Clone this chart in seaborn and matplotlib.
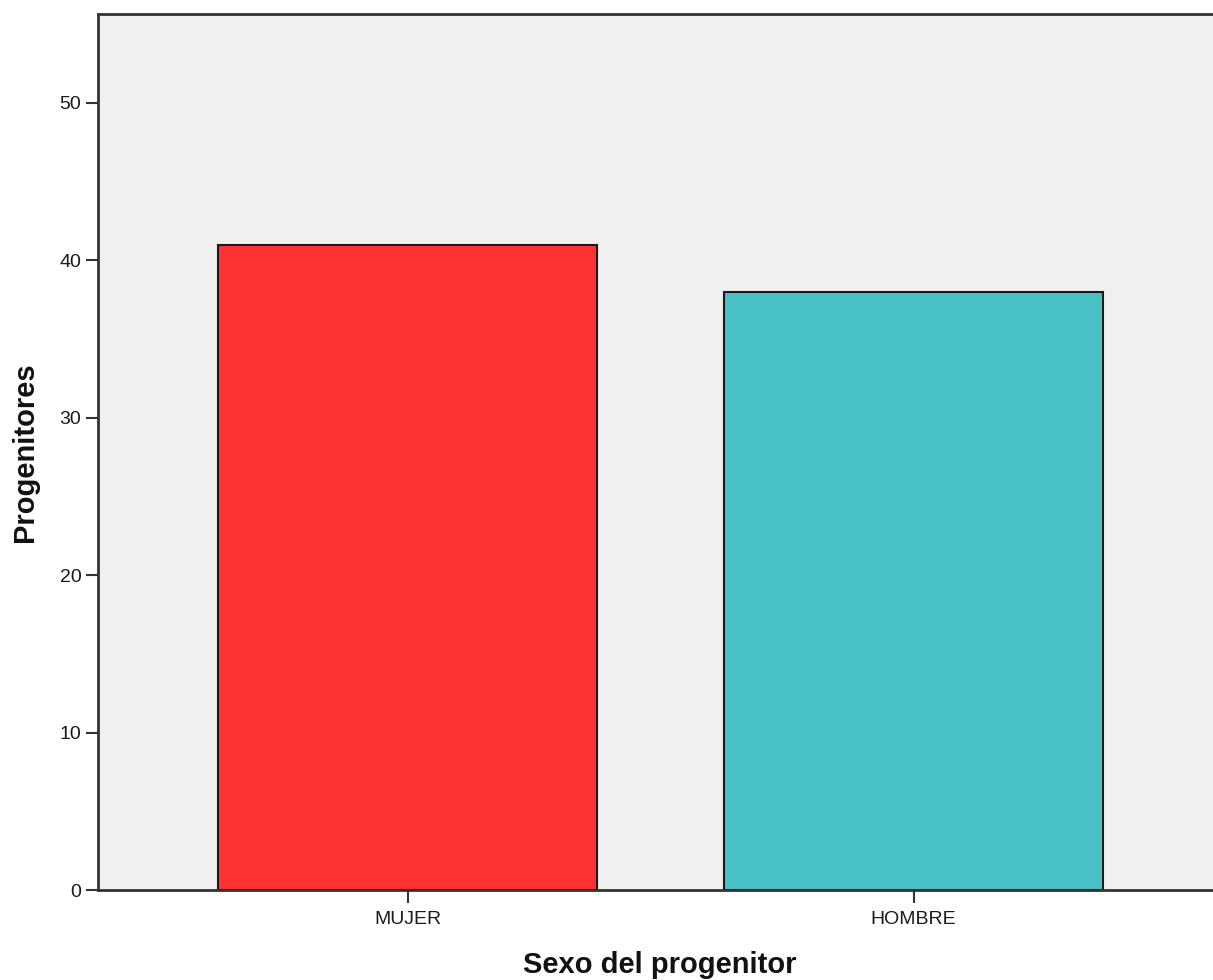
import numpy as np
import pandas as pd
import matplotlib.pyplot as plt
import seaborn as sns

# Data
categorias = ['MUJER', 'HOMBRE']
progenitores = [41, 38]
colores = ['#FF3334', '#48C2C6']

df = pd.DataFrame({'sexo': categorias, 'n': progenitores})

sns.set_style('white')
plt.rcParams['font.family'] = ['Liberation Sans', 'DejaVu Sans']

fig = plt.figure(figsize=(12.13, 9.8), dpi=100)
ax = fig.add_axes([98/1213, 90/980, 1 - 98/1213, 876/980])
ax.set_facecolor('#F0F0F0')

sns.barplot(data=df, x='sexo', y='n', hue='sexo', palette=colores, legend=False,
            width=0.75, edgecolor='#1a1a1a', linewidth=1.5, saturation=1, ax=ax)

ax.set_xlim(-0.612, 1.592)
ax.set_ylim(0, 55.65)
ax.set_yticks([0, 10, 20, 30, 40, 50])

for side in ['left', 'bottom', 'top']:
    ax.spines[side].set_color('#333333')
    ax.spines[side].set_linewidth(2)
ax.spines['right'].set_visible(False)

ax.tick_params(axis='both', which='both', length=9, width=1.5, color='#333333',
               labelsize=14, labelcolor='#1a1a1a', left=True, bottom=True)
ax.tick_params(axis='x', pad=6)
ax.tick_params(axis='y', pad=3)

ax.set_xlabel('Sexo del progenitor', fontsize=21, fontweight='bold', color='#111111')
ax.set_ylabel('Progenitores', fontsize=21, fontweight='bold', color='#111111')
ax.xaxis.set_label_coords(0.504, -0.070)
ax.yaxis.set_label_coords(-0.053, 0.5)

fig.savefig('out.png', dpi=100)
